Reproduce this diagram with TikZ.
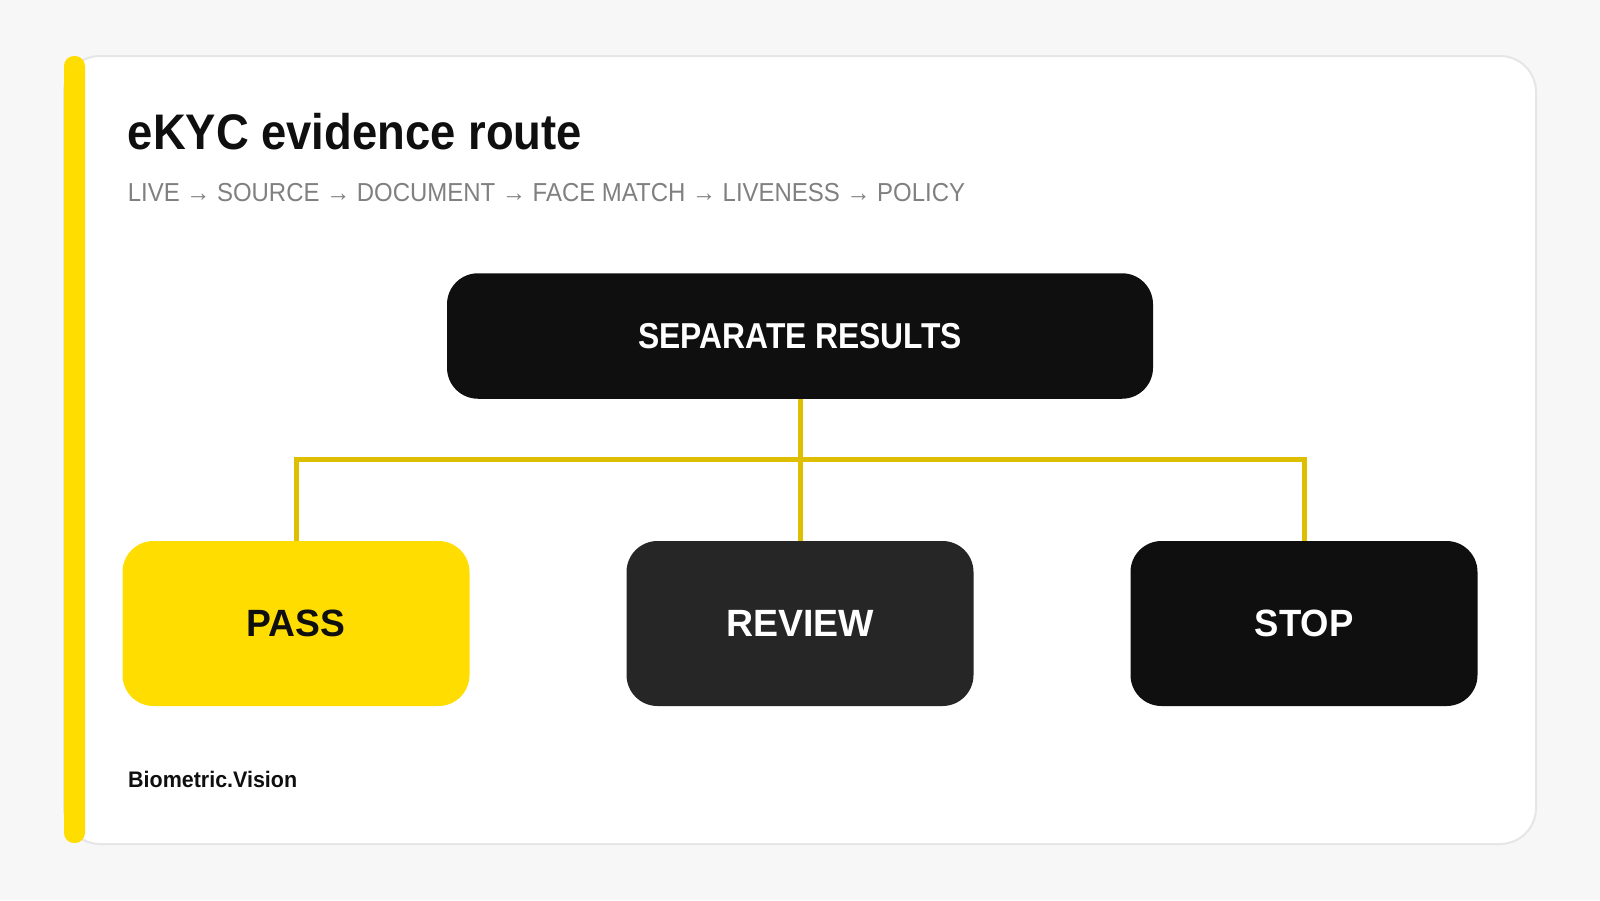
\documentclass[tikz,border=0pt]{standalone}
\usepackage{fontspec}
\usepackage{graphicx}
\setmainfont{Liberation Sans}
\usetikzlibrary{positioning}

\definecolor{pagegray}{HTML}{F7F7F7}
\definecolor{cardline}{HTML}{E6E6E6}
\definecolor{brandyellow}{HTML}{FFDD00}
\definecolor{linkyellow}{HTML}{DDBE00}
\definecolor{inkblack}{HTML}{0F0F0F}
\definecolor{inkgray}{HTML}{262626}
\definecolor{subgray}{HTML}{808080}

% narrower set of the texts
\newcommand{\squeezetext}[2]{\scalebox{#1}[1]{#2}}

\tikzset{
  resultbox/.style={rounded corners=31pt, minimum width=347pt, minimum height=165pt,
    inner sep=0pt, font=\fontsize{38}{44}\selectfont\bfseries},
  link/.style={linkyellow, line width=5pt}
}

\begin{document}
\begin{tikzpicture}[x=1pt,y=-1pt]
\useasboundingbox (0,0) rectangle (1600,900);
\fill[pagegray] (0,0) rectangle (1600,900);

% card
\draw[cardline, fill=white, line width=2pt, rounded corners=36pt] (64,56) rectangle (1536,844);
\fill[brandyellow, rounded corners=10pt] (64,56) rectangle (85,843);

% headings
\node[anchor=base west, inner sep=0pt, font=\fontsize{50}{58}\selectfont\bfseries, text=inkblack] (title) at (127.6,149) {\squeezetext{0.908}{eKYC evidence route}};
\node[anchor=base west, inner sep=0pt, font=\fontsize{26}{30}\selectfont, text=subgray] (steps) at (127.6,201) {\squeezetext{0.922}{LIVE → SOURCE → DOCUMENT → FACE MATCH → LIVENESS → POLICY}};

% boxes
\node[resultbox, fill=inkblack, text=white, minimum width=706pt, minimum height=125.5pt,
  font=\fontsize{36}{42}\selectfont\bfseries] (results) at (800,336) {\squeezetext{0.883}{SEPARATE RESULTS}};
\node[resultbox, fill=brandyellow, text=inkblack] (pass) at (296,623.5) {\squeezetext{0.98}{PASS}};
\node[resultbox, fill=inkgray, text=white] (review) at (800,623.5) {\squeezetext{0.986}{REVIEW}};
\node[resultbox, fill=inkblack, text=white] (stop) at (1304,623.5) {\squeezetext{0.96}{STOP}};

% connectors
\coordinate (fork) at (800,459);
\draw[link] (results.south) -- (review.north);
\draw[link] (pass.north) |- (fork) -| (stop.north);

\node[anchor=base west, inner sep=0pt, font=\fontsize{22.5}{26}\selectfont\bfseries, text=inkblack] (brand) at (128,787) {\squeezetext{0.954}{Biometric.Vision}};
\end{tikzpicture}
\end{document}
